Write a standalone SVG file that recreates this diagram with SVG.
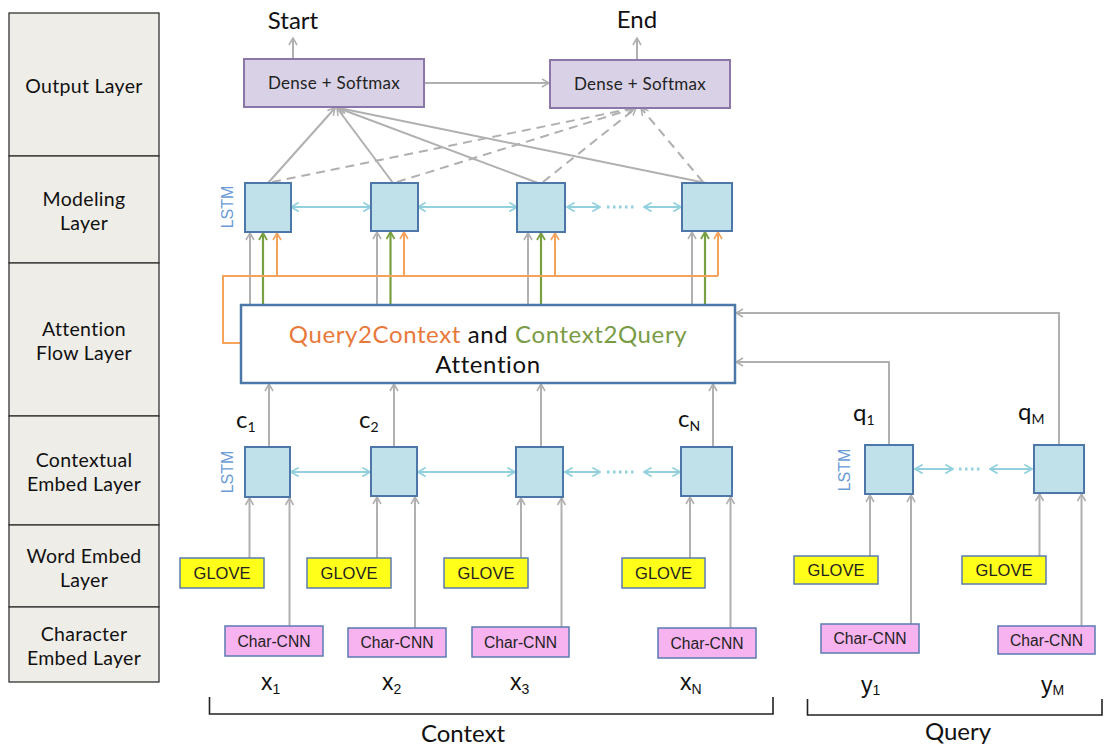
<svg xmlns="http://www.w3.org/2000/svg" width="1105" height="752" viewBox="0 0 1105 752">
<style>
.layer{fill:#efede8;stroke:#333;stroke-width:1.3}
.ltxt{font-family:Lato,"Liberation Sans",sans-serif;font-size:19.5px;letter-spacing:0.3px;fill:#111;text-anchor:middle}
.dense{fill:#d9d2e7;stroke:#8a77a8;stroke-width:2}
.dtxt{font-family:Lato,"Liberation Sans",sans-serif;font-size:17px;letter-spacing:0.3px;fill:#222;text-anchor:middle}
.lstm{fill:#c0e0ea;stroke:#4d77a8;stroke-width:2}
.lstmlbl{font-family:"Liberation Sans",sans-serif;font-size:16px;fill:#6a9bd6;text-anchor:middle}
.glove{fill:#ffff1a;stroke:#5b7bb0;stroke-width:1.5}
.gtxt{font-family:"Liberation Sans",sans-serif;font-size:16.5px;fill:#222;text-anchor:middle}
.cnn{fill:#f7b3f0;stroke:#5b7bb0;stroke-width:1.5}
.ctxt{font-family:"Liberation Sans",sans-serif;font-size:16px;fill:#222;text-anchor:middle}
.big{font-family:Lato,"Liberation Sans",sans-serif;font-size:24px;fill:#111}
.var{font-family:"Liberation Sans",sans-serif;font-size:23px;fill:#111}
.sub{font-size:14px}
.att{font-family:Lato,"Liberation Sans",sans-serif;font-size:24px;letter-spacing:0.6px;fill:#111;text-anchor:middle}
.g{fill:none;stroke:#b0b0b0;stroke-width:2}
.gd{fill:none;stroke:#b0b0b0;stroke-width:2;stroke-dasharray:9 6}
.gr{fill:none;stroke:#78a040;stroke-width:2.2}
.or{fill:none;stroke:#f5a35c;stroke-width:2}
.bl{fill:none;stroke:#93d0de;stroke-width:2}
.dots{fill:none;stroke:#93d0de;stroke-width:3;stroke-dasharray:2.5 3.5}
.br{fill:none;stroke:#222;stroke-width:1.6}
</style>
<defs>
<marker id="ag" viewBox="0 0 10 10" refX="9" refY="5" markerWidth="10" markerHeight="10" markerUnits="userSpaceOnUse" orient="auto-start-reverse"><path d="M2,1 L9,5 L2,9" fill="none" stroke="#b0b0b0" stroke-width="1.6"/></marker>
<marker id="agr" viewBox="0 0 10 10" refX="9" refY="5" markerWidth="10" markerHeight="10" markerUnits="userSpaceOnUse" orient="auto-start-reverse"><path d="M2,1 L9,5 L2,9" fill="none" stroke="#78a040" stroke-width="1.8"/></marker>
<marker id="aor" viewBox="0 0 10 10" refX="9" refY="5" markerWidth="10" markerHeight="10" markerUnits="userSpaceOnUse" orient="auto-start-reverse"><path d="M2,1 L9,5 L2,9" fill="none" stroke="#f5a35c" stroke-width="1.6"/></marker>
<marker id="abl" viewBox="0 0 10 10" refX="9" refY="5" markerWidth="11" markerHeight="11" markerUnits="userSpaceOnUse" orient="auto-start-reverse"><path d="M2,1 L9,5 L2,9" fill="none" stroke="#93d0de" stroke-width="1.6"/></marker>
</defs>

<g id="layers">
<rect class="layer" x="9" y="13" width="150" height="143"/>
<rect class="layer" x="9" y="156" width="150" height="107"/>
<rect class="layer" x="9" y="263" width="150" height="153"/>
<rect class="layer" x="9" y="416" width="150" height="109"/>
<rect class="layer" x="9" y="525" width="150" height="82"/>
<rect class="layer" x="9" y="607" width="150" height="75"/>
<text class="ltxt" x="84" y="93">Output Layer</text>
<text class="ltxt" x="84" y="206">Modeling</text>
<text class="ltxt" x="84" y="230">Layer</text>
<text class="ltxt" x="84" y="336">Attention</text>
<text class="ltxt" x="84" y="360">Flow Layer</text>
<text class="ltxt" x="84" y="467">Contextual</text>
<text class="ltxt" x="84" y="491">Embed Layer</text>
<text class="ltxt" x="84" y="563">Word Embed</text>
<text class="ltxt" x="84" y="587">Layer</text>
<text class="ltxt" x="84" y="641">Character</text>
<text class="ltxt" x="84" y="665">Embed Layer</text>
</g>

<g id="connectors">
<line class="g" x1="293" y1="59" x2="293" y2="38" marker-end="url(#ag)"/>
<line class="g" x1="637" y1="60" x2="637" y2="38" marker-end="url(#ag)"/>
<line class="g" x1="424" y1="83" x2="549" y2="83" marker-end="url(#ag)"/>
<line class="g" x1="268" y1="183" x2="335" y2="108" marker-end="url(#ag)"/>
<line class="g" x1="393" y1="183" x2="337" y2="108" marker-end="url(#ag)"/>
<line class="g" x1="538" y1="183" x2="338" y2="108" marker-end="url(#ag)"/>
<line class="g" x1="706" y1="183" x2="339" y2="108" marker-end="url(#ag)"/>
<line class="gd" x1="272" y1="182" x2="634" y2="108" marker-end="url(#ag)"/>
<line class="gd" x1="397" y1="182" x2="635" y2="108" marker-end="url(#ag)"/>
<line class="gd" x1="543" y1="182" x2="636" y2="108" marker-end="url(#ag)"/>
<line class="gd" x1="703" y1="182" x2="641" y2="108" marker-end="url(#ag)"/>
<line class="bl" x1="291" y1="207" x2="371" y2="207" marker-start="url(#abl)" marker-end="url(#abl)"/>
<line class="bl" x1="418" y1="207" x2="517" y2="207" marker-start="url(#abl)" marker-end="url(#abl)"/>
<line class="bl" x1="567" y1="207" x2="600" y2="207" marker-start="url(#abl)" marker-end="url(#abl)"/>
<line class="dots" x1="607" y1="207" x2="637" y2="207"/>
<line class="bl" x1="644" y1="207" x2="681" y2="207" marker-start="url(#abl)" marker-end="url(#abl)"/>
<line class="g" x1="250" y1="305" x2="250" y2="233" marker-end="url(#ag)"/>
<line class="gr" x1="263" y1="305" x2="263" y2="233" marker-end="url(#agr)"/>
<line class="g" x1="377" y1="305" x2="377" y2="232" marker-end="url(#ag)"/>
<line class="gr" x1="390.5" y1="305" x2="390.5" y2="232" marker-end="url(#agr)"/>
<line class="g" x1="528" y1="305" x2="528" y2="233" marker-end="url(#ag)"/>
<line class="gr" x1="541" y1="305" x2="541" y2="233" marker-end="url(#agr)"/>
<line class="g" x1="692" y1="305" x2="692" y2="232" marker-end="url(#ag)"/>
<line class="gr" x1="705" y1="305" x2="705" y2="232" marker-end="url(#agr)"/>
<polyline class="or" points="241,343 223,343 223,276 718,276"/>
<line class="or" x1="277" y1="276" x2="277" y2="233" marker-end="url(#aor)"/>
<line class="or" x1="404" y1="276" x2="404" y2="232" marker-end="url(#aor)"/>
<line class="or" x1="555" y1="276" x2="555" y2="233" marker-end="url(#aor)"/>
<line class="or" x1="718" y1="276" x2="718" y2="232" marker-end="url(#aor)"/>
<polyline class="g" points="1059,445 1059,313 736,313" marker-end="url(#ag)"/>
<polyline class="g" points="889,445 889,362 736,362" marker-end="url(#ag)"/>
<line class="g" x1="269" y1="447" x2="269" y2="384" marker-end="url(#ag)"/>
<line class="g" x1="394" y1="447" x2="394" y2="384" marker-end="url(#ag)"/>
<line class="g" x1="541" y1="447" x2="541" y2="384" marker-end="url(#ag)"/>
<line class="g" x1="713" y1="447" x2="713" y2="384" marker-end="url(#ag)"/>
<line class="bl" x1="291" y1="472" x2="370" y2="472" marker-start="url(#abl)" marker-end="url(#abl)"/>
<line class="bl" x1="418" y1="472" x2="515" y2="472" marker-start="url(#abl)" marker-end="url(#abl)"/>
<line class="bl" x1="565" y1="472" x2="600" y2="472" marker-start="url(#abl)" marker-end="url(#abl)"/>
<line class="dots" x1="607" y1="472" x2="637" y2="472"/>
<line class="bl" x1="644" y1="472" x2="680" y2="472" marker-start="url(#abl)" marker-end="url(#abl)"/>
<line class="bl" x1="915" y1="469" x2="953" y2="469" marker-start="url(#abl)" marker-end="url(#abl)"/>
<line class="dots" x1="959" y1="469" x2="982" y2="469"/>
<line class="bl" x1="990" y1="469" x2="1032" y2="469" marker-start="url(#abl)" marker-end="url(#abl)"/>
<line class="g" x1="249.5" y1="558" x2="249.5" y2="498" marker-end="url(#ag)"/>
<line class="g" x1="289.5" y1="626" x2="289.5" y2="498" marker-end="url(#ag)"/>
<line class="g" x1="377" y1="558" x2="377" y2="497" marker-end="url(#ag)"/>
<line class="g" x1="415" y1="628" x2="415" y2="497" marker-end="url(#ag)"/>
<line class="g" x1="521" y1="558" x2="521" y2="498" marker-end="url(#ag)"/>
<line class="g" x1="561.5" y1="627" x2="561.5" y2="498" marker-end="url(#ag)"/>
<line class="g" x1="690" y1="558" x2="690" y2="497" marker-end="url(#ag)"/>
<line class="g" x1="730.5" y1="628" x2="730.5" y2="497" marker-end="url(#ag)"/>
<line class="g" x1="870" y1="556" x2="870" y2="495" marker-end="url(#ag)"/>
<line class="g" x1="911" y1="624" x2="911" y2="495" marker-end="url(#ag)"/>
<line class="g" x1="1039.5" y1="556" x2="1039.5" y2="494" marker-end="url(#ag)"/>
<line class="g" x1="1081.5" y1="626" x2="1081.5" y2="494" marker-end="url(#ag)"/>
<polyline class="br" points="209.5,697 209.5,714 773,714 773,697"/>
<polyline class="br" points="807.5,699 807.5,715 1102,715 1102,699"/>
</g>

<g id="dense1"><rect class="dense" x="244" y="59" width="180" height="48"/><text class="dtxt" x="334" y="89">Dense + Softmax</text></g>
<g id="dense2"><rect class="dense" x="550" y="60" width="180" height="48"/><text class="dtxt" x="640" y="90">Dense + Softmax</text></g>
<g id="start"><text class="big" x="293" y="29" text-anchor="middle">Start</text></g>
<g id="end"><text class="big" x="637" y="28" text-anchor="middle">End</text></g>

<g id="modeling">
<text class="lstmlbl" transform="translate(233,207) rotate(-90)">LSTM</text>
<rect class="lstm" x="245" y="183" width="46" height="49"/>
<rect class="lstm" x="371" y="183" width="47" height="48"/>
<rect class="lstm" x="517" y="183" width="48" height="49"/>
<rect class="lstm" x="682" y="183" width="50" height="48"/>
</g>

<g id="attention">
<rect x="241" y="305" width="494" height="78" fill="#fff" stroke="#4d77a8" stroke-width="2.5"/>
<text class="att" x="488" y="343"><tspan fill="#e8793a">Query2Context</tspan> and <tspan fill="#7a9b45">Context2Query</tspan></text>
<text class="att" x="488" y="373">Attention</text>
</g>

<g id="contextual">
<text class="lstmlbl" transform="translate(233,472) rotate(-90)">LSTM</text>
<rect class="lstm" x="245" y="447" width="45" height="50"/>
<rect class="lstm" x="371" y="447" width="46" height="49"/>
<rect class="lstm" x="516" y="447" width="47" height="50"/>
<rect class="lstm" x="681" y="447" width="51" height="49"/>
<text class="big" x="236" y="428">c<tspan class="sub" dy="4">1</tspan></text>
<text class="big" x="359" y="428">c<tspan class="sub" dy="4">2</tspan></text>
<text class="big" x="678" y="427">c<tspan class="sub" dy="4">N</tspan></text>
</g>

<g id="querylstm">
<text class="lstmlbl" transform="translate(850,470) rotate(-90)">LSTM</text>
<rect class="lstm" x="865" y="445" width="48" height="49"/>
<rect class="lstm" x="1034" y="445" width="50" height="48"/>
<text class="big" x="853" y="421">q<tspan class="sub" dy="4">1</tspan></text>
<text class="big" x="1018" y="420">q<tspan class="sub" dy="4">M</tspan></text>
</g>

<g id="glove">
<rect class="glove" x="180" y="558" width="84" height="30"/><text class="gtxt" x="222" y="579">GLOVE</text>
<rect class="glove" x="307" y="558" width="84" height="30"/><text class="gtxt" x="349" y="579">GLOVE</text>
<rect class="glove" x="444" y="558" width="84" height="30"/><text class="gtxt" x="486" y="579">GLOVE</text>
<rect class="glove" x="622" y="558" width="83" height="30"/><text class="gtxt" x="663.5" y="579">GLOVE</text>
<rect class="glove" x="794" y="556" width="84" height="28"/><text class="gtxt" x="836" y="576">GLOVE</text>
<rect class="glove" x="962" y="556" width="84" height="28"/><text class="gtxt" x="1004" y="576">GLOVE</text>
</g>

<g id="charcnn">
<rect class="cnn" x="225" y="626" width="98" height="30"/><text class="ctxt" x="274" y="647" textLength="73" lengthAdjust="spacingAndGlyphs">Char-CNN</text>
<rect class="cnn" x="348" y="628" width="98" height="29"/><text class="ctxt" x="397" y="648" textLength="73" lengthAdjust="spacingAndGlyphs">Char-CNN</text>
<rect class="cnn" x="472" y="627" width="97" height="30"/><text class="ctxt" x="520.5" y="648" textLength="73" lengthAdjust="spacingAndGlyphs">Char-CNN</text>
<rect class="cnn" x="658" y="628" width="98" height="30"/><text class="ctxt" x="707" y="649" textLength="73" lengthAdjust="spacingAndGlyphs">Char-CNN</text>
<rect class="cnn" x="821" y="624" width="98" height="29"/><text class="ctxt" x="870" y="644" textLength="73" lengthAdjust="spacingAndGlyphs">Char-CNN</text>
<rect class="cnn" x="998" y="626" width="97" height="28"/><text class="ctxt" x="1046.5" y="646" textLength="73" lengthAdjust="spacingAndGlyphs">Char-CNN</text>
</g>

<g id="inputs">
<text class="var" x="261" y="690">x<tspan class="sub" dy="4">1</tspan></text>
<text class="var" x="382" y="690">x<tspan class="sub" dy="4">2</tspan></text>
<text class="var" x="510" y="690">x<tspan class="sub" dy="4">3</tspan></text>
<text class="var" x="680" y="690">x<tspan class="sub" dy="4">N</tspan></text>
<text class="var" x="861" y="693">y<tspan class="sub" dy="2">1</tspan></text>
<text class="var" x="1041" y="693">y<tspan class="sub" dy="2">M</tspan></text>
</g>

<g id="labels">
<text class="big" x="463" y="742" text-anchor="middle">Context</text>
<text class="big" x="958" y="740" text-anchor="middle">Query</text>
</g>
</svg>
